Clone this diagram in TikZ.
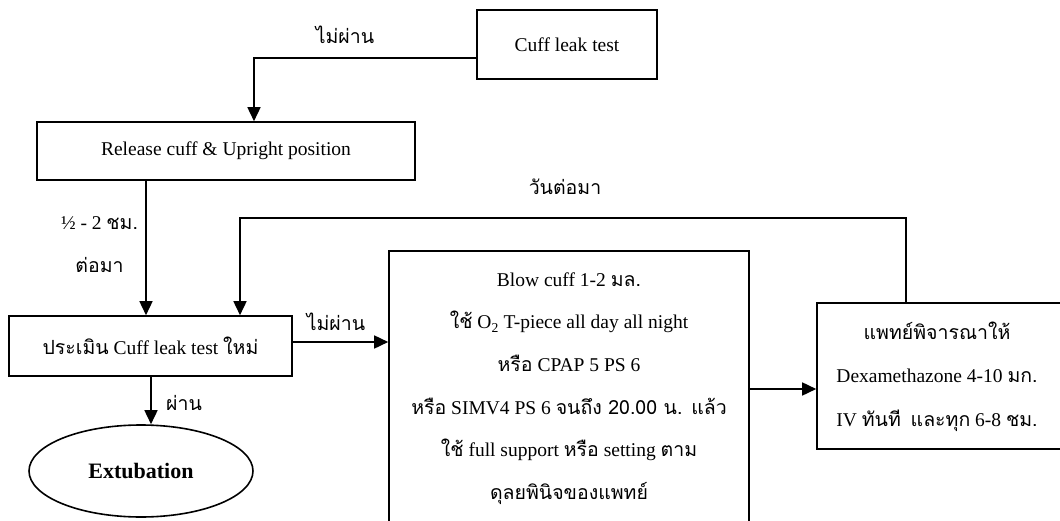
\documentclass[tikz,border=0pt]{standalone}
\usepackage{fontspec}
\setmainfont{Liberation Serif}
\newfontfamily\thaifont[Script=Thai]{Loma}
\newcommand\thai[1]{{\thaifont #1}}
\usetikzlibrary{arrows.meta,shapes.geometric}
\begin{document}
\begin{tikzpicture}[x=1pt,y=-1pt,
  font=\fontsize{19.5}{23}\selectfont,
  box/.style={draw, line width=1.6pt, rectangle, inner sep=0pt},
  arr/.style={line width=1.6pt, -{Triangle[length=14pt,width=13pt]}},
  lbl/.style={inner sep=0pt}]
\useasboundingbox (0,0) rectangle (1060,521);
\clip (0,0) rectangle (1060,521);

% boxes
\node[box, minimum width=180pt, minimum height=69pt] (cuff) at (567,44.5) {Cuff leak test};
\node[box, minimum width=378pt, minimum height=58pt] (release) at (226,151) {Release cuff \& Upright position};
\node[box, minimum width=283pt, minimum height=60pt] (assess) at (150.5,346) {\thai{ประเมิน} Cuff leak test \thai{ใหม่}};
\node[box, minimum width=360pt, minimum height=309pt] (big) at (569,405.5) {};
\node[box, minimum width=263pt, minimum height=146pt] (dex) at (948.5,376) {};
\node[draw, line width=1.6pt, ellipse, minimum width=224pt, minimum height=92pt, inner sep=0pt,
      font=\fontsize{22}{26}\selectfont\bfseries] (ext) at (141,471) {Extubation};

% box texts
\node[lbl, align=center, font=\fontsize{19.5}{42.6}\selectfont] (bigtxt) at (569,388.5)
  {Blow cuff 1-2 \thai{มล.}\\
   \thai{ใช้} O\textsubscript{2} T-piece all day all night\\
   \thai{หรือ} CPAP 5 PS 6\\
   \thai{หรือ} SIMV4 PS 6 \thai{จนถึง 20.00 น. แล้ว}\\
   \thai{ใช้} full support \thai{หรือ} setting \thai{ตาม}\\
   \thai{ดุลยพินิจของแพทย์}};
\node[lbl, align=center, font=\fontsize{19.5}{43.5}\selectfont] (dextxt) at (937,376.5)
  {\thai{แพทย์พิจารณาให้}\\
   Dexamethazone 4-10 \thai{มก.}\\
   IV \thai{ทันที}\ \ \thai{และทุก} 6-8 \thai{ชม.}};

% edge labels
\node[lbl] (l1) at (345,35) {\thai{ไม่ผ่าน}};
\node[lbl] (l2) at (99.5,223) {½ - 2 \thai{ชม.}};
\node[lbl] (l3) at (99.5,265) {\thai{ต่อมา}};
\node[lbl] (l4) at (336,322) {\thai{ไม่ผ่าน}};
\node[lbl] (l5) at (184,403) {\thai{ผ่าน}};
\node[lbl] (l6) at (565,187) {\thai{วันต่อมา}};

% helper coordinates
\coordinate (k1) at (254,58);
\coordinate (k2) at (146,0);
\coordinate (k3) at (151,0);
\coordinate (k4) at (0,342);
\coordinate (k5) at (0,389);
\coordinate (loopR) at (906,218);
\coordinate (loopL) at (240,218);

% connectors
\draw[arr] (cuff.west |- k1) -- (k1) -- (k1 |- release.north);
\draw[arr] (release.south -| k2) -- (assess.north -| k2);
\draw[arr] (assess.south -| k3) -- (k3 |- ext.north);
\draw[arr] (assess.east |- k4) -- (big.west |- k4);
\draw[arr] (big.east |- k5) -- (dex.west |- k5);
\draw[arr] (loopR |- dex.north) -- (loopR) -- (loopL) -- (loopL |- assess.north);
\end{tikzpicture}
\end{document}
